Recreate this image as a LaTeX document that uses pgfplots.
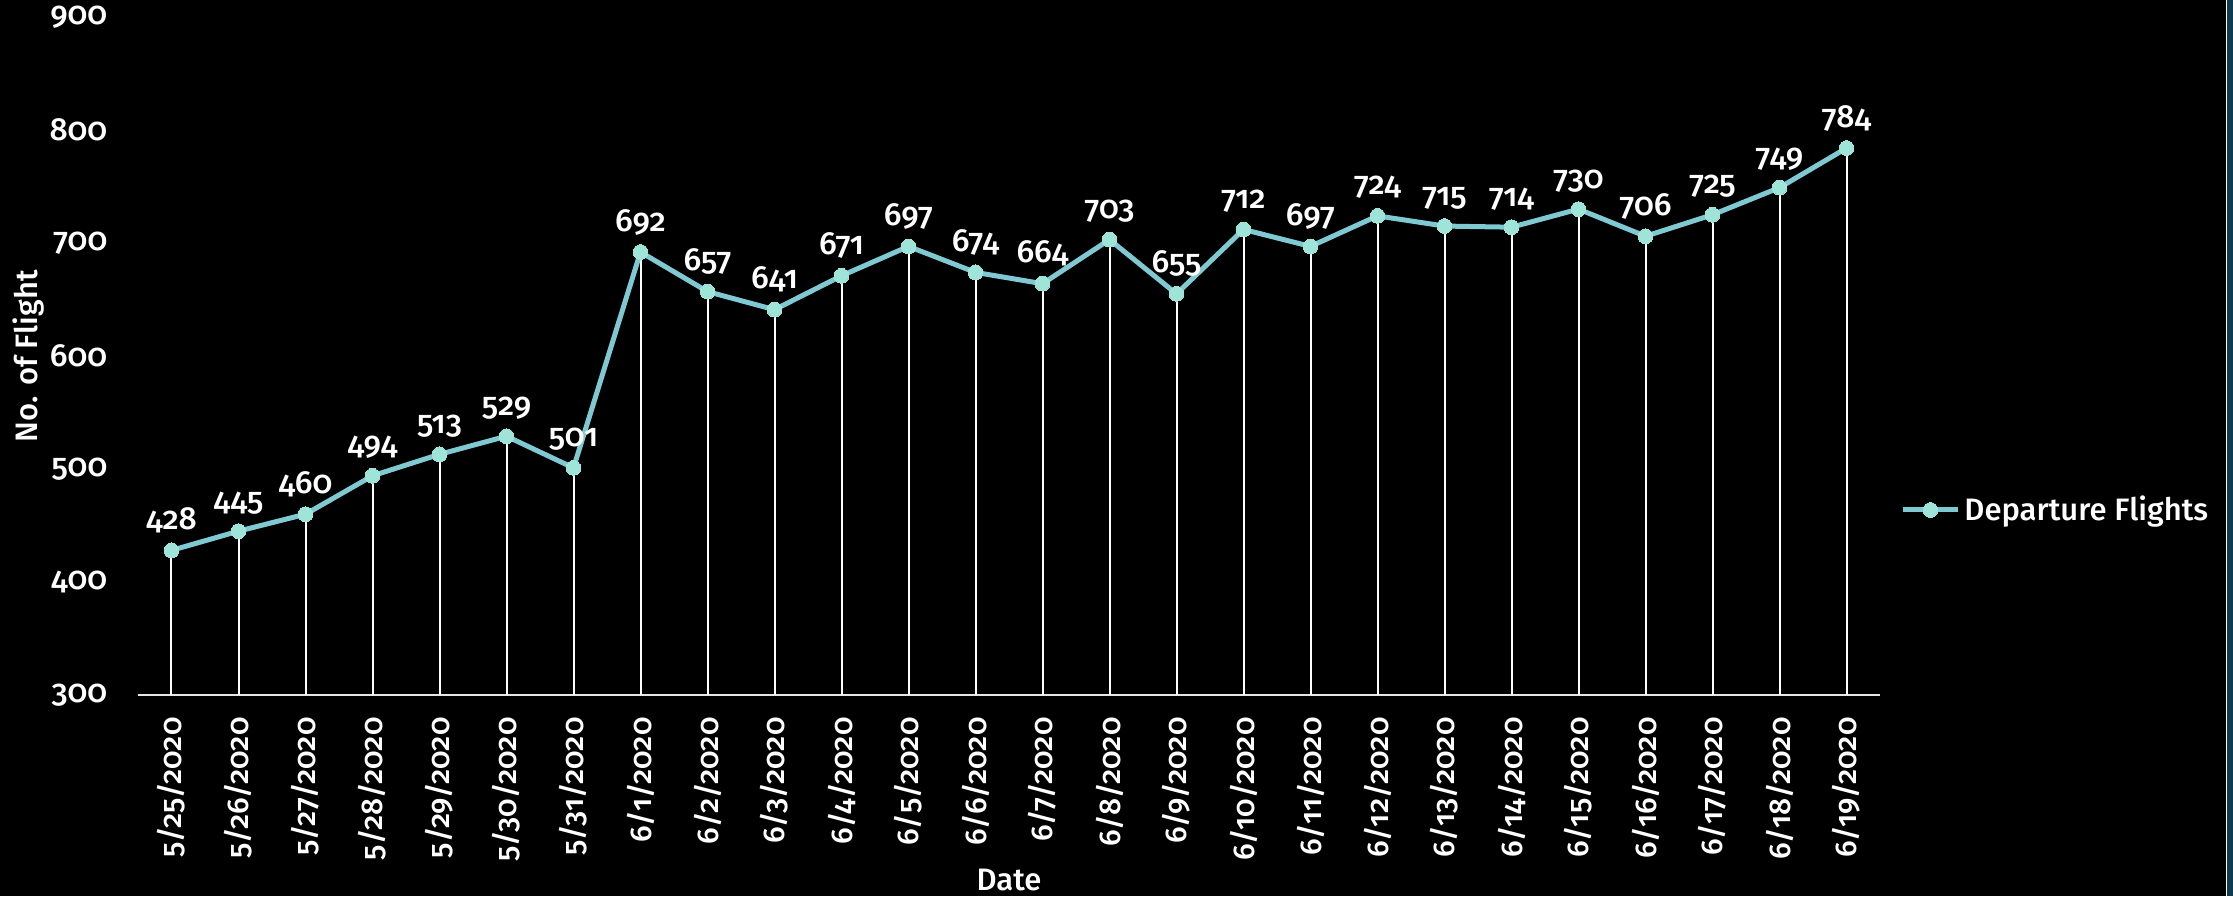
\documentclass[border=0pt]{standalone}
\usepackage{fontspec}
\setmainfont{Fira Sans Medium}[Numbers=OldStyle]
\usepackage{pgfplots}
\pgfplotsset{compat=1.18}
\definecolor{linec}{HTML}{7FC9D2}
\definecolor{markc}{HTML}{9EE4D9}
\definecolor{edgec}{HTML}{0F3B4D}
\newcommand{\fs}{\fontsize{15.5}{18}\selectfont}
\newcommand{\fn}{\fontsize{16}{19}\selectfont}
\newcommand{\fd}{\fontsize{15}{18}\selectfont}
\begin{document}
\fs
\begin{tikzpicture}[font=\fs]
\fill[black] (0,0) rectangle (1116.5pt,448pt);
\useasboundingbox (0,0) rectangle (1116.5pt,448pt);
\fill[edgec] (1113.5pt,0) rectangle (1116.5pt,448pt);
\draw[white, line width=0.5pt] (1113.25pt,0) -- (1113.25pt,448pt);
\begin{axis}[
  at={(69pt,100.5pt)}, anchor=south west,
  scale only axis, width=871pt, height=339pt,
  xmin=-0.5, xmax=25.5, ymin=300, ymax=900,
  ytick={300,400,500,600,700,800,900},
  xtick={0,...,25},
  xticklabels={5/25/2020,5/26/2020,5/27/2020,5/28/2020,5/29/2020,5/30/2020,5/31/2020,6/1/2020,6/2/2020,6/3/2020,6/4/2020,6/5/2020,6/6/2020,6/7/2020,6/8/2020,6/9/2020,6/10/2020,6/11/2020,6/12/2020,6/13/2020,6/14/2020,6/15/2020,6/16/2020,6/17/2020,6/18/2020,6/19/2020},
  axis x line*=bottom, axis y line*=left,
  y axis line style={draw=none},
  x axis line style={draw=black!10, line width=1pt},
  major tick length=0pt,
  /pgf/number format/assume math mode=true,
  yticklabel style={text=white, font=\fn, anchor=east, xshift=-10pt},
  xticklabel style={text=white, font=\fd, rotate=90, anchor=east, inner sep=0pt},
  xticklabel shift=11pt,
  xlabel={Date}, ylabel={No. of Flight},
  xlabel style={text=white, font=\fs, at={(axis description cs:0.5,-0.2729)}, anchor=center},
  ylabel style={text=white, font=\fs, at={(axis description cs:-0.0631,0.5)}, anchor=center},
  legend style={draw=none, fill=none, text=white, at={(axis description cs:1.0115,0.2729)}, anchor=west, inner sep=0pt, font=\fs},
  legend cell align=left,
  legend image code/.code={\draw[#1, mark repeat=2, mark phase=2] plot coordinates {(0pt,0pt) (13.75pt,0pt) (27.5pt,0pt)};},
]
\addplot[ycomb, white, line width=1pt, forget plot] coordinates {
(0,428) (1,445) (2,460) (3,494) (4,513) (5,529) (6,501) (7,692) (8,657) (9,641) (10,671) (11,697) (12,674) (13,664) (14,703) (15,655) (16,712) (17,697) (18,724) (19,715) (20,714) (21,730) (22,706) (23,725) (24,749) (25,784)
};
\addplot[linec, line width=2.5pt, mark=*, mark size=3.7pt, mark options={fill=markc, draw=markc, line width=0pt},
  nodes near coords, point meta=y,
  every node near coord/.append style={anchor=base, yshift=10.5pt, inner sep=0pt, text=white, font=\fn}] coordinates {
(0,428) (1,445) (2,460) (3,494) (4,513) (5,529) (6,501) (7,692) (8,657) (9,641) (10,671) (11,697) (12,674) (13,664) (14,703) (15,655) (16,712) (17,697) (18,724) (19,715) (20,714) (21,730) (22,706) (23,725) (24,749) (25,784)
};
\addlegendentry{Departure Flights}
\end{axis}
\end{tikzpicture}
\end{document}
